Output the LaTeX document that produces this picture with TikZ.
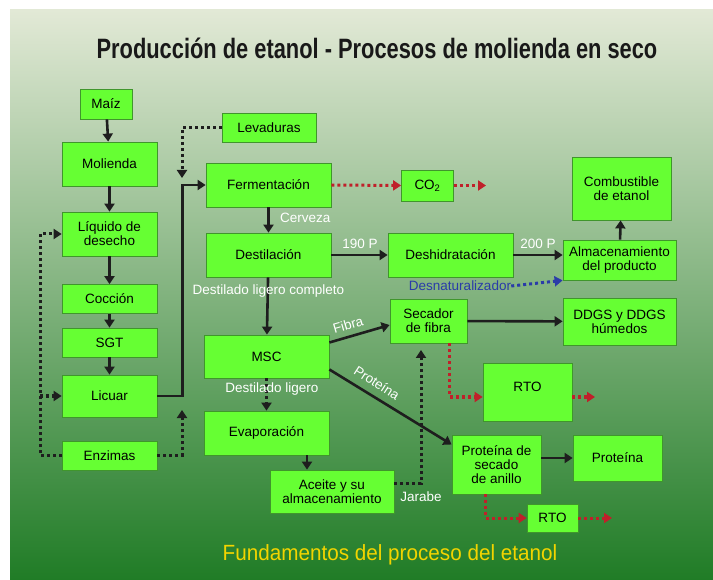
\documentclass[tikz,border=0pt]{standalone}
\usepackage{fontspec}
\setmainfont{Liberation Sans}
\usetikzlibrary{arrows.meta}

\begin{document}
\begin{tikzpicture}[x=1pt,y=-1pt,
	box/.style={draw=boxline,fill=boxfill,line width=0.8pt,align=center,inner sep=0pt,font=\fontsize{13.5}{14}\selectfont},
	lab/.style={text=white,inner sep=0pt,font=\fontsize{13.5}{14}\selectfont},
	flow/.style={draw=linecol,line width=2.6pt,-{Triangle[width=10pt,length=8pt]}},
	dots/.style={draw=linecol,line width=3pt,dash pattern=on 3pt off 3pt,-{Triangle[width=10pt,length=8pt]}},
	]
\definecolor{bgtop}{RGB}{226,233,214}
\definecolor{bgmid}{RGB}{146,194,128}
\definecolor{bgbot}{RGB}{32,124,38}
\definecolor{boxfill}{RGB}{102,255,51}
\definecolor{boxline}{RGB}{64,150,44}
\definecolor{linecol}{RGB}{30,30,30}
\definecolor{redcol}{RGB}{192,32,42}
\definecolor{bluecol}{RGB}{42,60,168}
\definecolor{footcol}{RGB}{242,212,0}
	\useasboundingbox (0,0) rectangle (713,580);
	\shade[top color=bgtop,middle color=bgmid,bottom color=bgbot] (10,10) rectangle (713,580);
	\node[font=\bfseries\fontsize{28}{30}\selectfont,text=black!90] (title) at (377,48) {\scalebox{0.78}[1]{Producción de etanol - Procesos de molienda en seco}};
	\node[font=\fontsize{22}{24}\selectfont,text=footcol] (footer) at (390,555) {\scalebox{0.94}[1]{Fundamentos del proceso del etanol}};

	\node[box,minimum width=52,minimum height=30] (maiz) at (106,104) {Maíz};
	\node[box,minimum width=95,minimum height=44] (molienda) at (109.5,164) {Molienda};
	\node[box,minimum width=95,minimum height=44] (liquido) at (109.5,234) {Líquido de\\desecho};
	\node[box,minimum width=95,minimum height=29] (coccion) at (109.5,299) {Cocción};
	\node[box,minimum width=95,minimum height=29] (sgt) at (109.5,342.5) {SGT};
	\node[box,minimum width=95,minimum height=42] (licuar) at (109.5,396) {Licuar};
	\node[box,minimum width=95,minimum height=29] (enzimas) at (109.5,455.5) {Enzimas};
	\node[box,minimum width=94,minimum height=29] (levaduras) at (269,127.5) {Levaduras};
	\node[box,minimum width=125,minimum height=44] (ferm) at (268.5,185) {Fermentación};
	\node[box,minimum width=125,minimum height=44] (destil) at (268.5,255) {Destilación};
	\node[box,minimum width=52,minimum height=31] (co2) at (427.5,185.5) {CO\textsubscript{2}};
	\node[box,minimum width=125,minimum height=44] (deshid) at (450.5,255) {Deshidratación};
	\node[box,minimum width=99,minimum height=63] (combust) at (621.5,188.5) {Combustible\\de etanol};
	\node[box,minimum width=113,minimum height=40] (almac) at (619.5,260) {Almacenamiento\\del producto};
	\node[box,minimum width=125,minimum height=43] (msc) at (266.5,356.5) {MSC};
	\node[box,minimum width=125,minimum height=44] (evap) at (266.5,433) {Evaporación};
	\node[box,minimum width=124,minimum height=43] (aceite) at (332,491.5) {Aceite y su\\almacenamiento};
	\node[box,minimum width=77,minimum height=44] (secador) at (428.5,321) {Secador\\de fibra};
	\node[box,minimum width=113,minimum height=47] (ddgs) at (619.5,321.5) {DDGS y DDGS\\húmedos};
	\node[box,minimum width=89,minimum height=58] (rtoa) at (527.5,392) {\raisebox{10pt}{RTO}};
	\node[box,minimum width=89,minimum height=59] (protsec) at (496.5,464.5) {Proteína de\\secado\\de anillo};
	\node[box,minimum width=89,minimum height=46] (proteina) at (617.5,458) {Proteína};
	\node[box,minimum width=51,minimum height=28] (rtob) at (552.5,518) {RTO};

	\coordinate (levend) at (182,178);
	\coordinate (enzend) at (182,410);
	\coordinate (recyc) at (40,455.5);
	\coordinate (jarend) at (421,350);
	\coordinate (co2out) at (486,185.5);
	\coordinate (rtoaout) at (595,397);
	\coordinate (rtobout) at (612,518);

	\draw[flow] (maiz) -- (molienda);
	\draw[flow] (molienda) -- (liquido);
	\draw[flow] (liquido) -- (coccion);
	\draw[flow] (coccion) -- (sgt);
	\draw[flow] (sgt) -- (licuar);
	\draw[flow] (licuar.east) -- ++(25,0) |- (ferm.west);
	\draw[dots] (levaduras.west) -| (levend);
	\draw[dots] (enzimas.east) -| (enzend);
	\draw[dots] (enzimas.west) -- (recyc) |- (liquido.west);
	\draw[dots] (recyc |- licuar.west) -- (licuar.west);
	\draw[flow] (ferm) -- (destil);
	\draw[dots,draw=redcol] (ferm.east) -- (co2.west);
	\draw[dots,draw=redcol] (co2.east) -- (co2out);
	\draw[flow] (destil) -- (deshid);
	\draw[flow] (deshid.east) -- (deshid.east -| almac.west);
	\draw[flow] (almac) -- (combust);
	\draw[flow] (destil) -- (msc);
	\draw[flow] ([yshift=14pt]msc.east) -- ([yshift=-4pt]secador.west);
	\draw[flow] ([yshift=-13pt]msc.east) -- ([yshift=20pt]protsec.west);
	\draw[dots] (msc) -- (evap);
	\draw[flow] ([xshift=-25pt]aceite.north |- evap.south) -- ([xshift=-25pt]aceite.north);
	\draw[dots] ([yshift=8pt]aceite.east) -| (jarend);
	\draw[flow] (secador) -- (ddgs);
	\draw[dots,draw=redcol] ([xshift=21pt]secador.south) |- ([yshift=-5pt]rtoa.west);
	\draw[dots,draw=redcol] ([yshift=-5pt]rtoa.east) -- (rtoaout);
	\draw[flow] (protsec.east |- proteina.west) -- (proteina.west);
	\draw[dots,draw=redcol] ([xshift=-11pt]protsec.south) |- (rtob.west);
	\draw[dots,draw=redcol] (rtob.east) -- (rtobout);

	\node[lab,anchor=west] (cerveza) at (280,218) {Cerveza};
	\node[lab] (p190) at (360,244) {190 P};
	\node[lab] (p200) at (538,244) {200 P};
	\node[lab] (dlc) at (268.5,291) {Destilado ligero completo};
	\node[lab,text=bluecol] (desnat) at (460,286) {Desnaturalizador};
	\draw[dots,draw=bluecol] (desnat.east) -- (almac.south west);
	\node[lab,rotate=16] (fibra) at (348,325) {Fibra};
	\node[lab,rotate=-33] (protlab) at (377,383) {Proteína};
	\node[lab] (dl) at (272,389) {Destilado ligero};
	\node[lab] (jarabe) at (421,497) {Jarabe};
\end{tikzpicture}
\end{document}
